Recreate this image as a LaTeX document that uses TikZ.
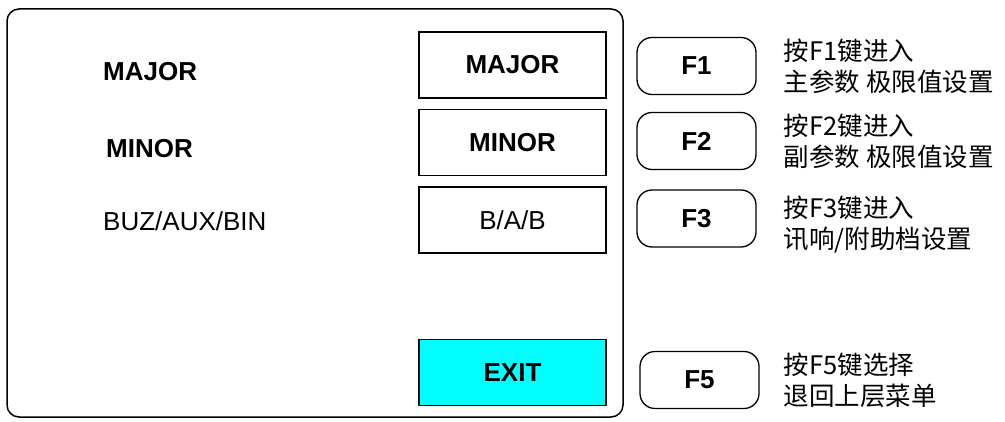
\documentclass[tikz,border=0pt]{standalone}
\usepackage{fontspec}
\setmainfont{Liberation Sans}
\newfontfamily\cjk{Noto Sans CJK SC}
\usetikzlibrary{positioning}
\definecolor{exitcyan}{RGB}{0,255,255}

\tikzset{
  label/.style={anchor=west, inner sep=0pt, font=\fontsize{26}{26}\selectfont},
  valbox/.style={draw, line width=1.5pt, minimum width=187pt, minimum height=66pt, inner sep=0pt, font=\fontsize{26}{26}\selectfont},
  fkey/.style={draw, line width=1.3pt, rounded corners=15pt, minimum width=119pt, minimum height=57pt, inner sep=0pt, font=\fontsize{26}{26}\selectfont\bfseries},
  hint/.style={right=27pt of #1, align=left, inner sep=0pt, font=\cjk\fontsize{25.5}{31}\selectfont},
}

\begin{document}
\begin{tikzpicture}[x=1pt,y=-1pt]
      \useasboundingbox (0,0) rectangle (1005,422);

      % Draw the outer panel
      \draw[line width=1.5pt, rounded corners=12pt] (7,9) rectangle (623,417);

      % Draw the labels on the left
      \node[label, font=\fontsize{26}{26}\selectfont\bfseries] (lmajor) at (103,72) {MAJOR};
      \node[label, font=\fontsize{26}{26}\selectfont\bfseries] (lminor) at (106,149) {MINOR};
      \node[label] (lbuz) at (103,221) {BUZ/AUX/BIN};

      % Draw the value boxes
      \node[valbox, font=\fontsize{26}{26}\selectfont\bfseries] (vmajor) at (512.5,65) {MAJOR};
      \node[valbox, font=\fontsize{26}{26}\selectfont\bfseries, below=10pt of vmajor] (vminor) {MINOR};
      \node[valbox, below=10pt of vminor] (vbab) {B/A/B};
      \node[valbox, fill=exitcyan, font=\fontsize{26}{26}\selectfont\bfseries] (vexit) at (512.5,372.5) {EXIT};

      % Draw the function keys and their hints
      \node[fkey] (f1) at (696.5,66) {F1};
      \node[fkey] (f2) at (696.5,141) {F2};
      \node[fkey] (f3) at (696.5,218.5) {F3};
      \node[fkey] (f5) at (699.5,380) {F5};

      \node[hint=f1] (h1) {按F1键进入\\主参数 极限值设置};
      \node[hint=f2] (h2) {按F2键进入\\副参数 极限值设置};
      \node[hint=f3, yshift=-6pt] (h3) {按F3键进入\\讯响/附助档设置};
      \node[hint=f5, xshift=-3pt] (h5) {按F5键选择\\退回上层菜单};
  \end{tikzpicture}
\end{document}
